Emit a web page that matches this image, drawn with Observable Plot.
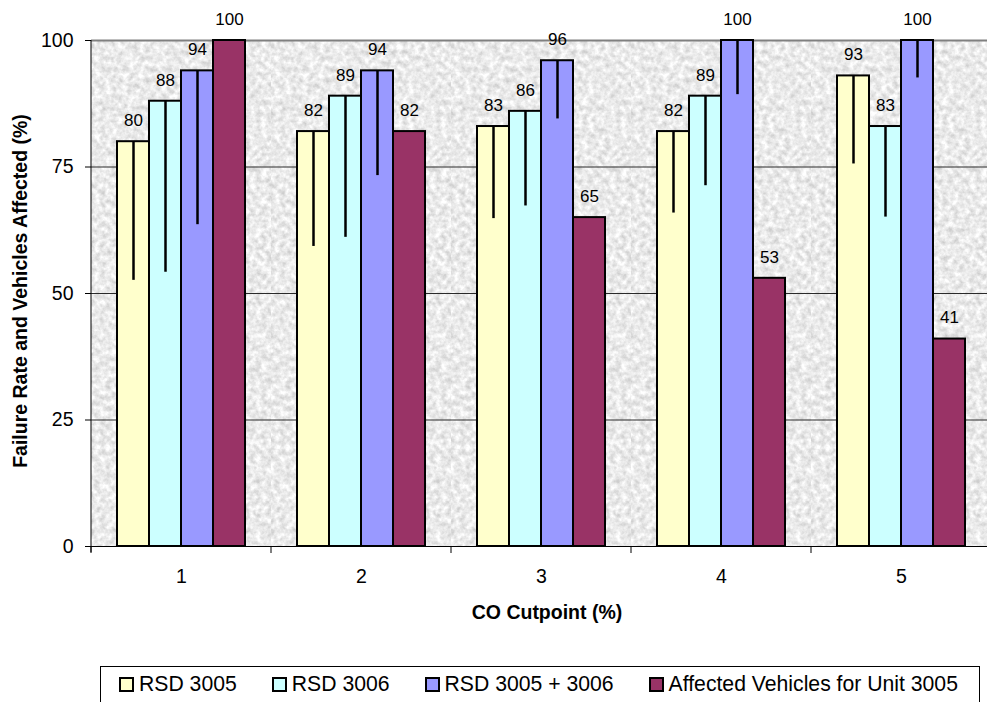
<!DOCTYPE html>
<html>
<head>
<meta charset="utf-8">
<script src="https://cdn.jsdelivr.net/npm/d3@7"></script>
<script src="https://cdn.jsdelivr.net/npm/@observablehq/plot@0.6"></script>
<style>
  html, body { margin: 0; padding: 0; background: #fff; overflow: hidden; }
  body { width: 987px; height: 702px; position: relative; font-family: Arial, "Liberation Sans", sans-serif; }
  #chart { position: absolute; left: 0; top: 0; width: 987px; overflow: hidden; }
  #legend {
    position: absolute; left: 100px; top: 666px; width: 880px; height: 44px;
    border: 1px solid #000; box-sizing: border-box; background: #fff;
    display: flex; align-items: center; padding-left: 18px; padding-bottom: 8px;
    font-size: 21.2px; color: #000; white-space: nowrap;
  }
  #legend .item { display: inline-flex; align-items: center; margin-right: 35px; }
  #legend .sw { display: inline-block; width: 11px; height: 11px; border: 2px solid #000; margin-right: 5px; }
</style>
</head>
<body>
<svg width="0" height="0" style="position:absolute">
  <defs>
    <filter id="noise" x="0" y="0" width="100%" height="100%" color-interpolation-filters="sRGB">
      <feTurbulence type="fractalNoise" baseFrequency="0.18" numOctaves="3" seed="7"/>
      <feColorMatrix type="matrix" values="0.32 0 0 0 0.76  0.32 0 0 0 0.76  0.32 0 0 0 0.76  0 0 0 0 1"/>
    </filter>
  </defs>
</svg>
<div id="chart"></div>
<div id="legend"></div>
<script>
// ---- data ----
const cutpoints = [1, 2, 3, 4, 5];
const seriesNames = ["RSD 3005", "RSD 3006", "RSD 3005 + 3006", "Affected Vehicles for Unit 3005"];
const seriesColors = ["#ffffcc", "#ccffff", "#9999ff", "#993366"];

const rsd3005 = [80, 82, 83, 82, 93];
const rsd3006 = [88, 89, 86, 89, 83];
const rsdCombined = [94, 94, 96, 100, 100];
const affected3005 = [100, 82, 65, 53, 41];

// lower ends of the error bars (no error bar on the affected-vehicles series)
const rsd3005Low = [52.6, 59.3, 64.8, 65.9, 75.6];
const rsd3006Low = [54.2, 61.1, 67.3, 71.3, 65.1];
const rsdCombinedLow = [63.6, 73.3, 84.5, 89.3, 92.6];

const yTicks = [0, 25, 50, 75, 100];
const xTitle = "CO Cutpoint (%)";
const yTitle = "Failure Rate and Vehicles Affected (%)";

// ---- tables built from the arrays ----
const seriesValues = [rsd3005, rsd3006, rsdCombined, affected3005];
const seriesLows = [rsd3005Low, rsd3006Low, rsdCombinedLow, null];

const rows = cutpoints.flatMap((c, i) =>
  seriesNames.map((s, j) => ({cut: c, series: s, value: seriesValues[j][i]})));
const errRows = cutpoints.flatMap((c, i) =>
  seriesNames.flatMap((s, j) => seriesLows[j] ? [{cut: c, series: s, value: seriesValues[j][i], low: seriesLows[j][i]}] : []));

const font = "Arial, 'Liberation Sans', sans-serif";

const plot = Plot.plot({
  width: 991,
  height: 640,
  marginTop: 40,
  marginBottom: 94,
  marginLeft: 91,
  marginRight: 0,
  style: {fontFamily: font, fontSize: "19.5px", color: "#000", background: "transparent", overflow: "visible", maxWidth: "none"},
  fx: {domain: cutpoints, padding: 0, label: null},
  x: {domain: seriesNames, paddingInner: 0, paddingOuter: 0.73, axis: null},
  y: {domain: [0, 100], axis: null},
  color: {domain: seriesNames, range: seriesColors},
  marks: [
    Plot.frame({fill: "#e9e9e9", stroke: null}),
    Plot.gridY(yTicks.filter(t => t > 0 && t < 100), {stroke: "#2a2a2a", strokeOpacity: 1, strokeWidth: 1}),
    Plot.ruleY([100], {stroke: "#808080", strokeWidth: 2}),
    Plot.barY(rows, {fx: "cut", x: "series", y: "value", fill: "series", stroke: "#000", strokeWidth: 2, inset: 0}),
    Plot.ruleX(errRows, {fx: "cut", x: "series", y1: "value", y2: "low", stroke: "#000", strokeWidth: 2.5}),
    Plot.text(rows, {fx: "cut", x: "series", y: "value", text: d => String(d.value), dy: -21, fontSize: 17, fill: "#000"}),
    Plot.ruleY([0], {stroke: "#000", strokeWidth: 1}),
    Plot.axisY({ticks: yTicks, tickSize: 6, tickPadding: 12, fontSize: 19.5, label: null, stroke: "#000"}),
    Plot.axisFx({anchor: "bottom", tickSize: 0, tickPadding: 23, fontSize: 19.5, label: null})
  ]
});

document.getElementById("chart").appendChild(plot);

// texture on the plot-area background
d3.select(plot).selectAll("g[aria-label=frame] rect, g[aria-label=frame]").filter(function () {
  return this.tagName === "rect";
}).attr("filter", "url(#noise)");

// axis line, group-boundary ticks and titles, positioned from Plot's own scales
const svg = d3.select(plot);
const fxS = plot.scale("fx");
const yS = plot.scale("y");
const y0 = yS.apply(0), y100 = yS.apply(100);
const left = fxS.apply(cutpoints[0]);
const bounds = cutpoints.map(c => fxS.apply(c)).concat([fxS.apply(cutpoints[cutpoints.length - 1]) + fxS.bandwidth]);
const deco = svg.append("g").attr("stroke", "#000").attr("stroke-width", 1);
deco.append("line").attr("x1", left).attr("x2", left).attr("y1", y100).attr("y2", y0 + 6);
bounds.forEach(b => deco.append("line").attr("x1", b).attr("x2", b).attr("y1", y0).attr("y2", y0 + 7));

svg.append("text")
  .attr("x", 547).attr("y", y0 + 73)
  .attr("text-anchor", "middle").attr("font-weight", "bold").attr("font-size", 19.5)
  .attr("font-family", font).attr("fill", "#000").text(xTitle);
svg.append("text")
  .attr("transform", `translate(27,${(y0 + y100) / 2 - 2}) rotate(-90)`)
  .attr("text-anchor", "middle").attr("font-weight", "bold").attr("font-size", 19.5)
  .attr("font-family", font).attr("fill", "#000").text(yTitle);

// legend
const legend = d3.select("#legend");
seriesNames.forEach((s, i) => {
  const item = legend.append("span").attr("class", "item");
  item.append("span").attr("class", "sw").style("background", seriesColors[i]);
  item.append("span").text(s);
});
</script>
</body>
</html>
